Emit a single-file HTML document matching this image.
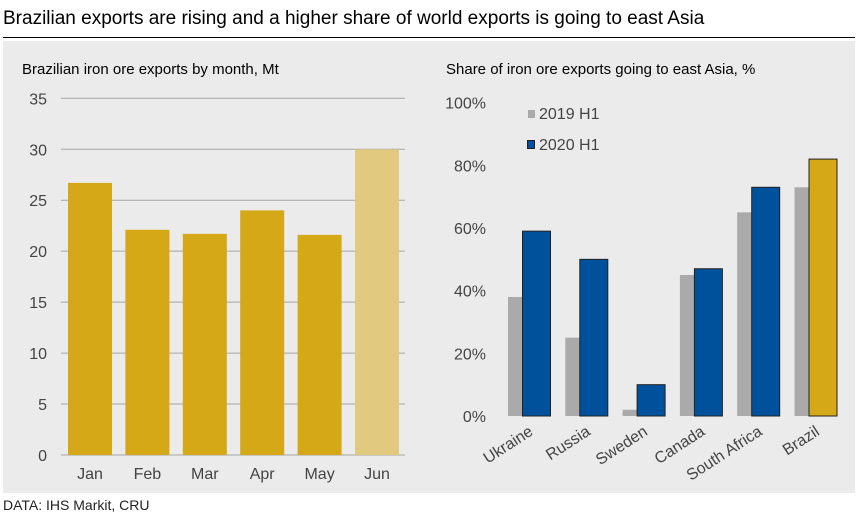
<!DOCTYPE html>
<html><head><meta charset="utf-8"><style>
body{margin:0;background:#fff;width:858px;height:516px;overflow:hidden;font-family:"Liberation Sans",Arial,sans-serif}
svg text{font-family:"Liberation Sans",Arial,sans-serif}
</style></head><body>
<svg width="858" height="516">
<text x="3" y="24" font-size="19" fill="#000">Brazilian exports are rising and a higher share of world exports is going to east Asia</text>
<line x1="3" y1="37.5" x2="855" y2="37.5" stroke="#000" stroke-width="1"/>
<rect x="3" y="41" width="852" height="452" fill="#ebebeb"/>
<text x="22" y="74" font-size="15" fill="#000">Brazilian iron ore exports by month, Mt</text>
<text x="446" y="74" font-size="15" fill="#000">Share of iron ore exports going to east Asia, %</text>
<g id="left"></g>
<g id="right"></g>
<text x="3" y="510" font-size="14" fill="#222">DATA: IHS Markit, CRU</text>
</svg>
<script>
const months=["Jan","Feb","Mar","Apr","May","Jun"];
const monthly=[26.7,22.1,21.7,24.0,21.6,30.0];
const leftTicks=[0,5,10,15,20,25,30,35];
const countries=["Ukraine","Russia","Sweden","Canada","South Africa","Brazil"];
const share2019=[38,25,2,45,65,73];
const share2020=[59,50,10,47,73,82];
const rightTicks=[0,20,40,60,80,100];

const NS="http://www.w3.org/2000/svg";
function mk(p,t,a){const e=document.createElementNS(NS,t);for(const k in a)e.setAttribute(k,a[k]);p.appendChild(e);return e;}
// left chart
const L=document.getElementById('left');
const ly=v=>455-v*(455-98.3)/35;
const lx=i=>68+i*57.4;
leftTicks.forEach(t=>{
 const g=mk(L,'line',{x1:61,x2:405,y1:ly(t),y2:ly(t),stroke:'#a6a6a6','stroke-width':1});
 
 
 const tx=mk(L,'text',{x:47,y:ly(t)+6,'text-anchor':'end','font-size':16,fill:'#444'});tx.textContent=t;
 
 
});
monthly.forEach((v,i)=>{
 const r=mk(L,'rect',{x:lx(i),y:ly(v),width:44,height:ly(0)-ly(v),fill:i==5?'#e1c980':'#d5a817'});
 
 
 const tx=mk(L,'text',{x:lx(i)+22,y:479,'text-anchor':'middle','font-size':16,fill:'#444'});tx.textContent=months[i];
 
 
});
// right chart
const R=document.getElementById('right');
const ry=v=>416-v*(416-102.7)/100;
const rx=i=>508+i*57.3;
rightTicks.forEach(t=>{
 const tx=mk(R,'text',{x:486,y:ry(t)+6,'text-anchor':'end','font-size':16,fill:'#444'});tx.textContent=t+'%';
 
 
});
countries.forEach((c,i)=>{
 const g=mk(R,'rect',{x:rx(i),y:ry(share2019[i]),width:28,height:ry(0)-ry(share2019[i]),fill:'#aaaaaa'});
 
 
 const b=mk(R,'rect',{x:rx(i)+14.5,y:ry(share2020[i]),width:28,height:ry(0)-ry(share2020[i]),fill:i==5?'#d5a817':'#00519c',stroke:'#222','stroke-width':1});
 
 
 const cx=rx(i)+26, cy=434;
 const tx=mk(R,'text',{x:cx,y:cy,'text-anchor':'end','font-size':16,fill:'#444',transform:`rotate(-33 ${cx} ${cy})`});tx.textContent=c;
 
 
});
// legend
const l1=mk(R,'rect',{x:528,y:110,width:7,height:8,fill:'#aaaaaa'});


const lt1=mk(R,'text',{x:539,y:119,'font-size':16,fill:'#444'});lt1.textContent='2019 H1';


const l2=mk(R,'rect',{x:527.5,y:140.5,width:7,height:8,fill:'#00519c',stroke:'#222','stroke-width':1});


const lt2=mk(R,'text',{x:539,y:150,'font-size':16,fill:'#444'});lt2.textContent='2020 H1';


</script>
</body></html>
